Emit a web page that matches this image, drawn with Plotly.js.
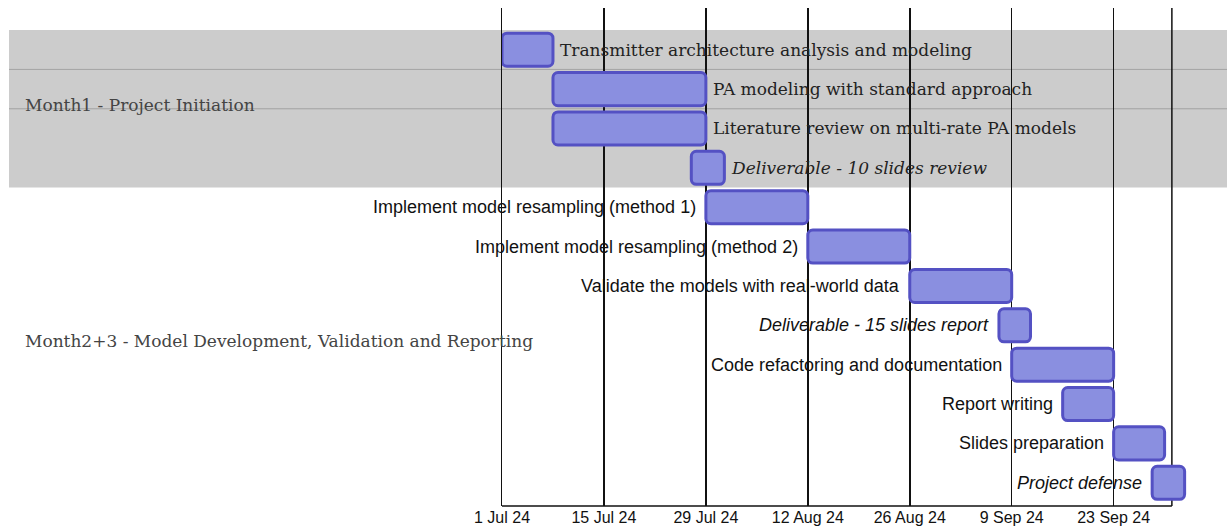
<!DOCTYPE html>
<html>
<head>
<meta charset="utf-8">
<script src="https://cdn.plot.ly/plotly-3.0.1.min.js"></script>
<style>
html,body{margin:0;padding:0;background:#fff;}
#chart{width:1227px;height:531px;}
</style>
</head>
<body>
<div id="chart"></div>
<script>
// ---- data ----
const tasks = [
  "Transmitter architecture analysis and modeling",
  "PA modeling with standard approach",
  "Literature review on multi-rate PA models",
  "Deliverable - 10 slides review",
  "Implement model resampling (method 1)",
  "Implement model resampling (method 2)",
  "Validate the models with real-world data",
  "Deliverable - 15 slides report",
  "Code refactoring and documentation",
  "Report writing",
  "Slides preparation",
  "Project defense"
];
const starts = [
  "2024-07-01 00:00", "2024-07-08 00:00", "2024-07-08 00:00", "2024-07-27 00:00",
  "2024-07-29 00:00", "2024-08-12 00:00", "2024-08-26 00:00", "2024-09-07 06:00",
  "2024-09-09 00:00", "2024-09-16 00:00", "2024-09-23 00:00", "2024-09-28 07:00"
];
const ends = [
  "2024-07-08 00:00", "2024-07-29 00:00", "2024-07-29 00:00", "2024-07-31 13:00",
  "2024-08-12 00:00", "2024-08-26 00:00", "2024-09-09 00:00", "2024-09-11 14:00",
  "2024-09-23 00:00", "2024-09-23 00:00", "2024-09-30 00:00", "2024-10-02 18:00"
];
const taskGroup = [0,0,0,0,1,1,1,1,1,1,1,1];
const milestone = [false,false,false,true,false,false,false,true,false,false,false,true];
const groupNames = [
  "Month1 - Project Initiation",
  "Month2+3 - Model Development, Validation and Reporting"
];
const tickStart = "2024-07-01";
const timelineStart = "2024-07-01";
const timelineEnd = "2024-10-01";
const viewEnd = "2024-10-05";
const tickDays = 14;

// ---- build ----
const DAY = 86400000;
const toMs = s => Date.parse(s.replace(' ', 'T') + ':00Z');
const rows = tasks.map((_, i) => i);
const durations = starts.map((s, i) => toMs(ends[i]) - toMs(s));

const serif = "DejaVu Serif, serif";
const sans = "Liberation Sans, Arial, sans-serif";

const PLOT_W = 699; // plot width in px (1227 - 502 - 26)

const barTrace = {
  type: 'bar',
  orientation: 'h',
  y: rows,
  x: durations,
  base: starts,
  width: 0.84,
  marker: {
    color: '#8a8fe0',
    line: {color: '#5451c3', width: 3},
    cornerradius: 5
  },
  hoverinfo: 'skip',
  showlegend: false
};

const annotations = [];
tasks.forEach((t, i) => {
  const g = taskGroup[i];
  const txt = milestone[i] ? '<i>' + t + '</i>' : t;
  if (g === 0) {
    annotations.push({
      x: ends[i], y: i, xref: 'x', yref: 'y', text: txt, showarrow: false,
      xanchor: 'left', yanchor: 'middle', xshift: 7, borderpad: 0, borderwidth: 0,
      font: {family: serif, size: 17, color: '#222'}
    });
  } else {
    annotations.push({
      x: starts[i], y: i, xref: 'x', yref: 'y', text: txt, showarrow: false,
      xanchor: 'right', yanchor: 'middle', xshift: -10, borderpad: 0, borderwidth: 0,
      font: {family: sans, size: 18, color: '#111'}
    });
  }
});

const shapes = [];
groupNames.forEach((name, g) => {
  const idx = rows.filter(i => taskGroup[i] === g);
  const first = Math.min(...idx), last = Math.max(...idx);
  annotations.push({
    x: 0, xref: 'paper', xshift: -477, y: (first + last) / 2, yref: 'y', yshift: 4,
    text: name, showarrow: false, xanchor: 'left', yanchor: 'middle',
    borderpad: 0, borderwidth: 0,
    font: {family: serif, size: 17, color: '#444'}
  });
  if (g === 0) {
    shapes.push({
      type: 'rect', xref: 'paper', yref: 'y', x0: -493 / PLOT_W, x1: 725 / PLOT_W,
      y0: first - 0.5, y1: last + 0.5, fillcolor: '#cccccc', line: {width: 0}, layer: 'below'
    });
    [first + 0.5, first + 1.5].forEach(yy => shapes.push({
      type: 'line', xref: 'paper', yref: 'y', x0: -493 / PLOT_W, x1: 725 / PLOT_W,
      y0: yy, y1: yy, line: {color: '#a3a3a3', width: 1}, layer: 'below'
    }));
  }
});
// right border and bottom axis line of the timeline (ends at timelineEnd)
shapes.push({
  type: 'line', xref: 'x', yref: 'paper', x0: timelineEnd, x1: timelineEnd, y0: 0, y1: 1,
  line: {color: '#111', width: 1.5}, layer: 'between'
});
shapes.push({
  type: 'line', xref: 'x', yref: 'paper', x0: timelineStart, x1: timelineEnd, y0: 0, y1: 0,
  line: {color: '#111', width: 1.5}, layer: 'between'
});

const layout = {
  width: 1227, height: 531,
  margin: {l: 502, r: 26, t: 8, b: 25, pad: 0},
  paper_bgcolor: 'rgba(0,0,0,0)',
  plot_bgcolor: 'rgba(0,0,0,0)',
  showlegend: false,
  xaxis: {
    type: 'date',
    range: [timelineStart, viewEnd],
    tick0: tickStart,
    dtick: tickDays * DAY,
    tickformat: '%-d %b %y',
    showgrid: true, gridcolor: '#111', gridwidth: 1.5,
    showline: false,
    ticks: '',
    tickfont: {family: sans, size: 16, color: '#111'},
    fixedrange: true
  },
  yaxis: {
    range: [11.59, -1.06],
    showticklabels: false, showgrid: false, zeroline: false,
    showline: true, linecolor: '#111', linewidth: 1.5,
    ticks: '',
    fixedrange: true
  },
  shapes: shapes,
  annotations: annotations
};

Plotly.newPlot('chart', [barTrace], layout, {displayModeBar: false, staticPlot: true});
</script>
</body>
</html>
